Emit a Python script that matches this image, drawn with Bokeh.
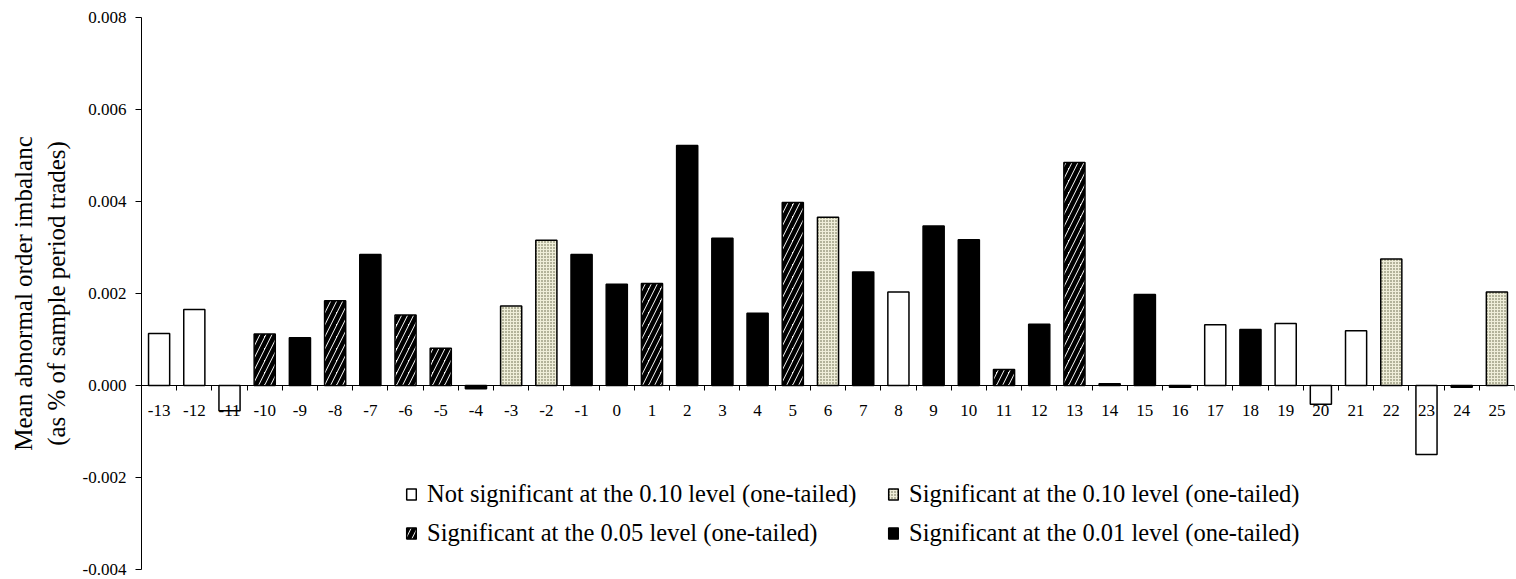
from bokeh.plotting import figure
from bokeh.models import (ColumnDataSource, Range1d, LinearAxis, FixedTicker,
                          Legend, LegendItem, PrintfTickFormatter)
from bokeh.embed import file_html
from bokeh.resources import INLINE

# ---- data ----
periods = list(range(-13, 26))
values = [0.00113, 0.00165, -0.00055, 0.00112, 0.00104, 0.00184, 0.00285, 0.00153,
          0.00081, -0.00007, 0.00173, 0.00316, 0.00285, 0.00220, 0.00222, 0.00522,
          0.00320, 0.00157, 0.00398, 0.00366, 0.00247, 0.00203, 0.00347, 0.00317,
          0.00035, 0.00133, 0.00485, 0.00004, 0.00198, -0.00004, 0.00132, 0.00122,
          0.00135, -0.00041, 0.00119, 0.00275, -0.00150, -0.00004, 0.00203]
# significance: n = not significant, p10 = 0.10, p05 = 0.05, p01 = 0.01
signif = ["n", "n", "n", "p05", "p01", "p05", "p01", "p05",
          "p05", "p01", "p10", "p10", "p01", "p01", "p05", "p01",
          "p01", "p01", "p05", "p10", "p01", "n", "p01", "p01",
          "p05", "p01", "p05", "p01", "p01", "p01", "n", "p01",
          "n", "n", "n", "p10", "n", "p01", "p10"]
groups = ["n", "p10", "p05", "p01"]
labels = {"n": "Not significant at the 0.10 level (one-tailed)",
          "p10": "Significant at the 0.10 level (one-tailed)",
          "p05": "Significant at the 0.05 level (one-tailed)",
          "p01": "Significant at the 0.01 level (one-tailed)"}
legend_order = ["n", "p05", "p10", "p01"]  # column-major fill -> rows: n|p10, p05|p01
y_ticks = [-0.004, -0.002, 0.0, 0.002, 0.004, 0.006, 0.008]
y_title = "Mean abnormal order imbalanc\n(as % of sample period trades)"

FONT = "Liberation Serif"

p = figure(width=1516, height=579, output_backend="svg", toolbar_location=None,
           x_range=Range1d(periods[0] - 0.5, periods[-1] + 0.5),
           y_range=Range1d(y_ticks[0], y_ticks[-1]),
           x_axis_location=None,
           min_border_left=141, min_border_right=2, min_border_top=17, min_border_bottom=10)
p.xgrid.visible = False
p.ygrid.visible = False
p.outline_line_color = None
p.background_fill_color = "white"

styles = {
    "n": dict(fill_color="white"),
    "p10": dict(fill_color="#efeed9", hatch_pattern="dot", hatch_color="#5a5a3c",
                hatch_scale=3, hatch_weight=1.0),
    "p05": dict(fill_color="white", hatch_pattern="right_diagonal_line", hatch_color="black",
                hatch_scale=12, hatch_weight=4.5),
    "p01": dict(fill_color="black"),
}

renderers = {}
for g in groups:
    xs = [x for x, s in zip(periods, signif) if s == g]
    ys = [v for v, s in zip(values, signif) if s == g]
    src = ColumnDataSource(dict(x=xs, top=ys))
    r = p.vbar(x="x", top="top", bottom=0, width=0.6, source=src,
               line_color="black", line_width=1.5, **styles[g])
    renderers[g] = r

# y axis
ya = p.yaxis[0]
ya.ticker = FixedTicker(ticks=y_ticks)
ya.formatter = PrintfTickFormatter(format="%.3f")
ya.minor_tick_line_color = None
ya.major_tick_in = 0
ya.major_tick_out = 6
ya.axis_line_color = "black"
ya.major_tick_line_color = "black"
ya.major_label_text_font = FONT
ya.major_label_text_font_size = "17px"
ya.major_label_text_color = "black"
ya.major_label_standoff = 9
ya.axis_label = y_title
ya.axis_label_text_font = FONT
ya.axis_label_text_font_size = "25px"
ya.axis_label_text_font_style = "normal"
ya.axis_label_text_color = "black"
ya.axis_label_standoff = 10

# x axis with labels at the zero line
xa = LinearAxis(fixed_location=0, ticker=FixedTicker(ticks=periods),
                formatter=PrintfTickFormatter(format="%d"))
xa.major_tick_in = 0
xa.major_tick_out = 0
xa.minor_tick_line_color = None
xa.axis_line_color = "black"
xa.major_label_text_font = FONT
xa.major_label_text_font_size = "17px"
xa.major_label_text_color = "black"
xa.major_label_standoff = 19
p.add_layout(xa, "below")

# tick marks between categories
bounds = [x - 0.5 for x in periods] + [periods[-1] + 0.5]
xb = LinearAxis(fixed_location=0, ticker=FixedTicker(ticks=bounds))
xb.major_tick_in = 0
xb.major_tick_out = 5
xb.minor_tick_line_color = None
xb.axis_line_color = None
xb.major_tick_line_color = "black"
xb.major_label_text_alpha = 0
xb.major_label_text_font_size = "1px"
p.add_layout(xb, "below")

legend = Legend(items=[LegendItem(label=labels[g], renderers=[renderers[g]]) for g in legend_order],
                ncols=2, location=(264, 22),
                label_text_font=FONT, label_text_font_size="24.5px", label_text_color="black",
                glyph_width=12, glyph_height=14, label_standoff=10, spacing=11,
                padding=0, margin=0, border_line_color=None, background_fill_alpha=0,
                label_width=449)
p.add_layout(legend)

open("out.html", "w").write(file_html(p, INLINE))
